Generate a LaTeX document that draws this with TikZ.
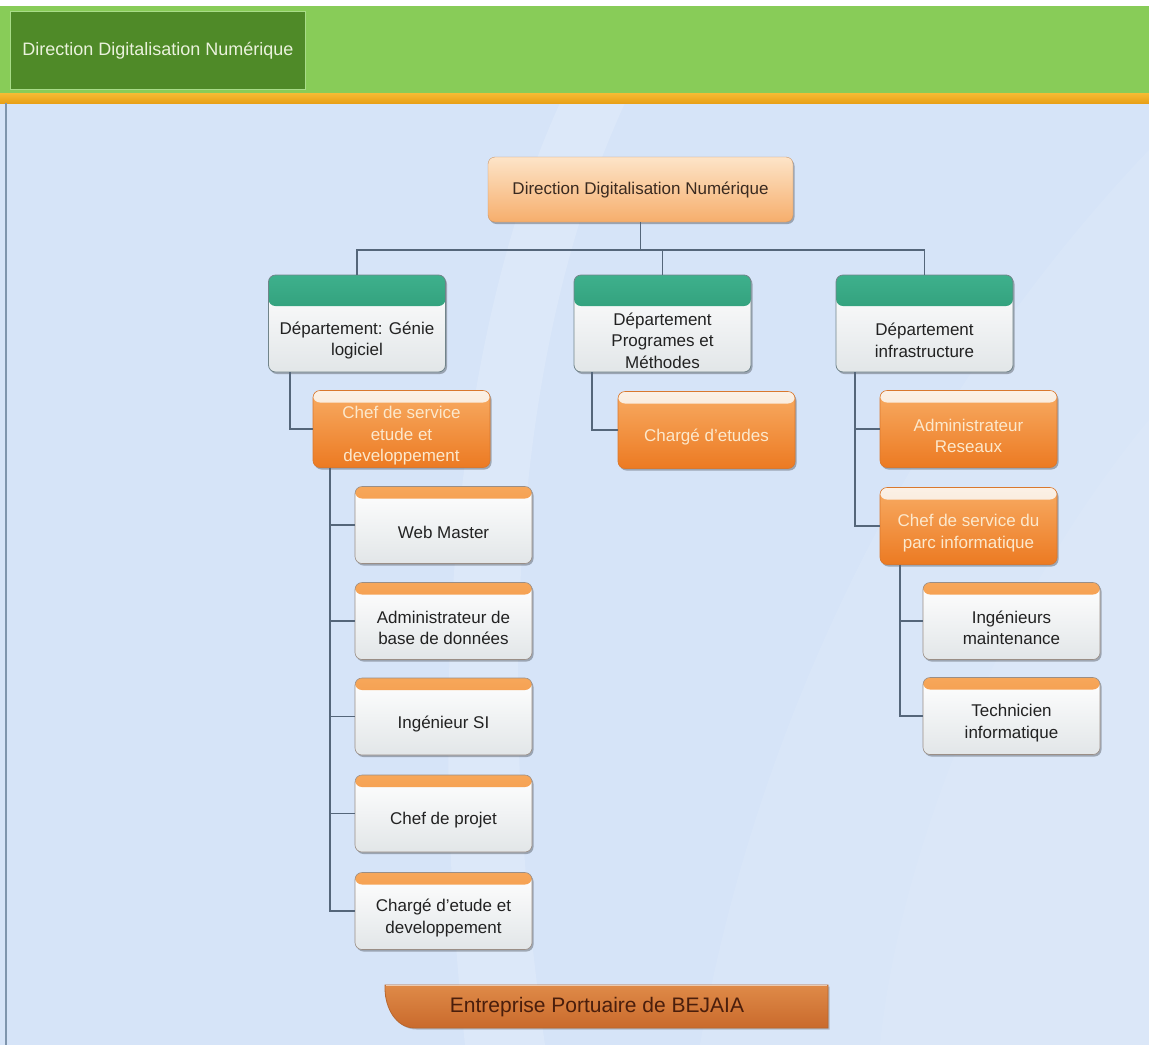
\documentclass[tikz,border=0pt]{standalone}
\usepackage{fontspec}
\setmainfont{Liberation Sans}
\usetikzlibrary{shadows,calc}

% palette
\definecolor{bgblue}{HTML}{D6E4F8}
\definecolor{hdrgreen}{HTML}{88CC58}
\definecolor{hdrdark}{HTML}{4F8A28}
\definecolor{hdredge}{HTML}{A8DC88}
\definecolor{hdrtext}{HTML}{EAF2DC}
\definecolor{stripeA}{HTML}{F5BC34}
\definecolor{stripeB}{HTML}{E8A018}
\definecolor{edgeline}{HTML}{7F95AD}
\definecolor{lineC}{HTML}{55667A}
\definecolor{topA}{HTML}{FDE4C8}
\definecolor{topC}{HTML}{F6AE6C}
\definecolor{topB}{HTML}{C99466}
\definecolor{topT}{HTML}{3A2A20}
\definecolor{grnA}{HTML}{3EB08C}
\definecolor{grnB}{HTML}{1E8662}
\definecolor{bodyC}{HTML}{E2E6E8}
\definecolor{deptB}{HTML}{71848A}
\definecolor{oA}{HTML}{F8AC64}
\definecolor{oC}{HTML}{EC7A22}
\definecolor{oB}{HTML}{D9782E}
\definecolor{oT}{HTML}{FCE8CC}
\definecolor{bandA}{HTML}{FBF1E6}
\definecolor{bandB}{HTML}{F2D6BA}
\definecolor{obandA}{HTML}{F7A75A}
\definecolor{obandB}{HTML}{EE8630}
\definecolor{wB}{HTML}{9A8E86}
\definecolor{darkT}{HTML}{222222}
\definecolor{banA}{HTML}{DF8A48}
\definecolor{banB}{HTML}{C96A2C}
\definecolor{banD}{HTML}{B8662E}
\definecolor{banT}{HTML}{4A1E0C}

\newcommand\bxfont{\fontsize{17}{21.5}\selectfont}

\tikzset{
  conn/.style={draw=lineC, line width=1.3pt},
  shadowed/.style={drop shadow={shadow xshift=1.5pt, shadow yshift=-2pt, opacity=0.28, fill=black}},
  basebox/.style={rounded corners=7pt, minimum width=177pt, minimum height=77pt,
    inner sep=0pt, shadowed},
  lbl/.style={font=\bxfont, align=center, inner sep=0pt},
  topbox/.style={basebox, minimum width=305pt, minimum height=65pt, draw=topB,
    top color=topA, bottom color=topC, text=topT, font=\bxfont},
  deptbox/.style={basebox, minimum height=97pt, draw=deptB, line width=0.8pt,
    top color=white, bottom color=bodyC,
    path picture={\shade[top color=grnA, bottom color=grnB]
      (path picture bounding box.north west) rectangle
      ([yshift=-31pt]path picture bounding box.north east);}},
  orgbox/.style={basebox, draw=oB, line width=0.6pt,
    top color=oA, bottom color=oC,
    path picture={\shade[top color=bandA, bottom color=bandB]
      (path picture bounding box.north west) rectangle
      ([yshift=-12pt]path picture bounding box.north east);}},
  wbox/.style={basebox, draw=wB, line width=0.6pt,
    top color=white, bottom color=bodyC,
    path picture={\shade[top color=obandA, bottom color=obandB]
      (path picture bounding box.north west) rectangle
      ([yshift=-12pt]path picture bounding box.north east);}},
  dtext/.style={lbl, text=darkT, yshift=-17pt},
  otext/.style={lbl, text=oT, yshift=-7pt},
  wtext/.style={lbl, text=darkT, yshift=-7pt},
}

\begin{document}
\begin{tikzpicture}[x=1pt, y=-1pt]
\useasboundingbox (0,0) rectangle (1149,1045);

% page background
\fill[white] (0,0) rectangle (1149,1045);
\fill[bgblue] (0,103) rectangle (1149,1045);
% soft light sweeps
\fill[white, opacity=0.16] (560,103) .. controls (470,300) and (420,620) .. (465,1045)
  -- (545,1045) .. controls (490,660) and (520,330) .. (625,103) -- cycle;
\fill[white, opacity=0.09] (1149,150) .. controls (930,380) and (760,700) .. (700,1045)
  -- (1149,1045) -- cycle;
\fill[white, opacity=0.07] (1149,420) .. controls (1000,600) and (900,850) .. (880,1045)
  -- (1149,1045) -- cycle;

% header band
\fill[hdrgreen] (0,6) rectangle (1149,93);
\shade[top color=stripeA, bottom color=stripeB] (0,93) rectangle (1149,103);
\draw[edgeline, line width=2.5pt] (6,103) -- (6,1045);
\node[draw=hdredge, line width=1pt, fill=hdrdark, text=hdrtext,
      minimum width=295pt, minimum height=78pt, anchor=north west,
      font=\fontsize{18}{22}\selectfont] (hdr) at (10,11) {Direction Digitalisation Numérique};

% top of the chart
\node[topbox] (top) at (640.5,189.5) {Direction Digitalisation Numérique};

% departments
\node[deptbox, label={[dtext]center:{Département: Génie\\logiciel}}] (dL) at (357,323.5) {};
\node[deptbox, label={[dtext]center:{Département\\Programes et\\Méthodes}}] (dM) at (662.5,323.5) {};
\node[deptbox, label={[dtext]center:{Département\\infrastructure}}] (dR) at (924.5,323.5) {};

% heads of service and staff (orange)
\node[orgbox, label={[otext]center:{Chef de service\\etude et\\developpement}}] (ce) at (401.5,429) {};
\node[orgbox, label={[otext]center:{Chargé d'etudes}}] (cd) at (706.5,430) {};
\node[orgbox, label={[otext]center:{Administrateur\\Reseaux}}] (ar) at (968.5,429) {};
\node[orgbox, label={[otext]center:{Chef de service du\\parc informatique}}] (cp) at (968.5,526) {};

% staff (white)
\node[wbox, label={[wtext]center:{Web Master}}] (wm) at (443.5,525) {};
\node[wbox, label={[wtext]center:{Administrateur de\\base de données}}] (bd) at (443.5,621) {};
\node[wbox, label={[wtext]center:{Ingénieur SI}}] (si) at (443.5,716.5) {};
\node[wbox, label={[wtext]center:{Chef de projet}}] (pj) at (443.5,813.5) {};
\node[wbox, label={[wtext]center:{Chargé d'etude et\\developpement}}] (ed) at (443.5,911) {};
\node[wbox, label={[wtext]center:{Ingénieurs\\maintenance}}] (im) at (1011.5,621) {};
\node[wbox, label={[wtext]center:{Technicien\\informatique}}] (ti) at (1011.5,716) {};

% connectors
\coordinate (bus) at (640.5,250);
\draw[conn] (top.south) -- (bus);
\draw[conn] (dL.north) |- (bus);
\draw[conn] (dM.north) |- (bus);
\draw[conn] (dR.north) |- (bus);
\draw[conn] ([xshift=-67pt]dL.south) |- (ce.west);
\draw[conn] ([xshift=-70.5pt]dM.south) |- (cd.west);
\draw[conn] ([xshift=-69.5pt]dR.south) |- (ar.west);
\draw[conn] ([xshift=-69.5pt]dR.south) |- (cp.west);
\foreach \t in {wm,bd,si,pj,ed}
  \draw[conn] ([xshift=-71.5pt]ce.south) |- (\t.west);
\foreach \t in {im,ti}
  \draw[conn] ([xshift=-68.5pt]cp.south) |- (\t.west);

% footer banner
\shade[top color=banA, bottom color=banB, draw=banD, line width=0.8pt,
       drop shadow={shadow xshift=1.5pt, shadow yshift=-1.5pt, opacity=0.2, fill=black}]
  (385,985) -- (828,985) -- (828,1028) -- (415,1028)
  .. controls (396,1028) and (385,1008) .. (385,988) -- cycle;
\draw[white, opacity=0.6, line width=0.8pt] (386,985.5) -- (827,985.5);
\node[text=banT, font=\fontsize{21}{25}\selectfont] (ban) at (597,1007) {Entreprise Portuaire de BEJAIA};
\end{tikzpicture}
\end{document}
